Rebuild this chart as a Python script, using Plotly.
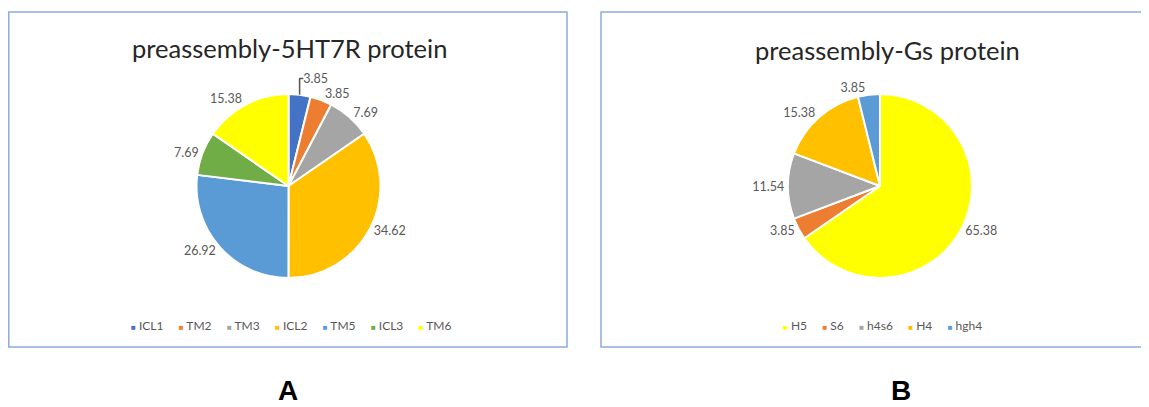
import plotly.graph_objects as go

# ---- data ----
labels_a = ["ICL1", "TM2", "TM3", "ICL2", "TM5", "ICL3", "TM6"]
values_a = [3.85, 3.85, 7.69, 34.62, 26.92, 7.69, 15.38]
colors_a = ["#4472C4", "#ED7D31", "#A5A5A5", "#FFC000", "#5B9BD5", "#70AD47", "#FFFF00"]
title_a = "preassembly-5HT7R protein"

labels_b = ["H5", "S6", "h4s6", "H4", "hgh4"]
values_b = [65.38, 3.85, 11.54, 15.38, 3.85]
colors_b = ["#FFFF00", "#ED7D31", "#A5A5A5", "#FFC000", "#5B9BD5"]
title_b = "preassembly-Gs protein"

panel_letters = ["A", "B"]

# page body has an 8px margin; work in window pixels and convert
OFF = 8
W, H = 1149 - OFF, 407 - OFF
FONT = "Lato"
GRAY = "#595959"


def px(x):
    return (x - OFF) / W


def py(y):
    return 1 - (y - OFF) / H


def pie_domain(cx, cy, r):
    return dict(x=[px(cx - r), px(cx + r)], y=[py(cy + r), py(cy - r)])


def legend_text(labels, colors):
    parts = []
    for lab, col in zip(labels, colors):
        parts.append(f'<span style="color:{col};font-size:8px">■</span> {lab}')
    return "&nbsp;&nbsp;&nbsp;&nbsp;&nbsp;".join(parts)


fig = go.Figure()

for labels, values, colors, dom in [
    (labels_a, values_a, colors_a, pie_domain(288.5, 186, 92)),
    (labels_b, values_b, colors_b, pie_domain(880, 186, 92)),
]:
    fig.add_trace(go.Pie(
        labels=labels, values=values, sort=False, direction="clockwise",
        rotation=0, domain=dom,
        marker=dict(colors=colors, line=dict(color="white", width=2)),
        texttemplate="%{value:.2f}", textposition="outside",
        outsidetextfont=dict(family=FONT, size=12.5, color=GRAY),
        showlegend=False, hoverinfo="label+value",
    ))

# panel boxes
box_col = "#8FAADC"
fig.add_shape(type="rect", xref="paper", yref="paper",
              x0=px(8.8), x1=px(567), y0=py(347), y1=py(12),
              line=dict(color=box_col, width=1.5), fillcolor="rgba(0,0,0,0)")
fig.add_shape(type="rect", xref="paper", yref="paper",
              x0=px(601), x1=px(1160), y0=py(347), y1=py(12),
              line=dict(color=box_col, width=1.5), fillcolor="rgba(0,0,0,0)")

# titles
fig.add_annotation(text=title_a, x=px(289), y=py(48), xref="paper", yref="paper",
                   xanchor="center", yanchor="middle", showarrow=False,
                   font=dict(family=FONT, size=25.5, color="#262626"))
fig.add_annotation(text=title_b, x=px(887), y=py(50), xref="paper", yref="paper",
                   xanchor="center", yanchor="middle", showarrow=False,
                   font=dict(family=FONT, size=25.5, color="#262626"))

# legends
fig.add_annotation(text=legend_text(labels_a, colors_a), x=px(291), y=py(325),
                   xref="paper", yref="paper", xanchor="center", yanchor="middle",
                   showarrow=False, font=dict(family=FONT, size=12, color=GRAY))
fig.add_annotation(text=legend_text(labels_b, colors_b), x=px(882), y=py(325),
                   xref="paper", yref="paper", xanchor="center", yanchor="middle",
                   showarrow=False, font=dict(family=FONT, size=12, color=GRAY))

# panel letters
for letter, xc in zip(panel_letters, [288, 901]):
    fig.add_annotation(text=f"<b>{letter}</b>", x=px(xc), y=py(407), xref="paper", yref="paper",
                       xanchor="center", yanchor="bottom", showarrow=False, borderpad=0,
                       font=dict(family="Liberation Sans", size=28, color="black"))

fig.update_layout(width=W, height=H, margin=dict(l=0, r=0, t=0, b=0),
                  paper_bgcolor="white", plot_bgcolor="white")

fig.write_html("out.html")
